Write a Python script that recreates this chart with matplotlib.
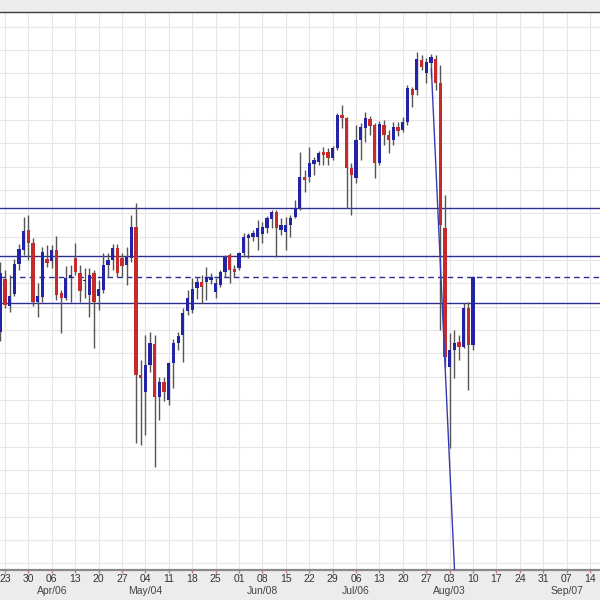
import numpy as np
import pandas as pd
import matplotlib
matplotlib.use("Agg")
import matplotlib.pyplot as plt
from matplotlib.transforms import blended_transform_factory

# daily OHLC, first bar is Fri 2015-03-20, one bar per business day
start_day = "2015-03-20"

opens = [109.91, 112.19, 111.03, 111.54, 112.83, 113.43, 114.29, 113.73, 111.20, 111.41,
         113.04, 112.96, 113.43, 111.58, 111.37, 112.23, 113.09, 112.44, 112.10, 111.50,
         112.44, 111.46, 111.71, 112.79, 113.00, 113.51, 113.09, 112.79, 113.09, 114.41,
         108.07, 107.34, 108.50, 109.40, 107.13, 107.77, 107.00, 108.59, 109.44, 109.78,
         110.81, 110.85, 111.80, 112.06, 112.06, 112.14, 111.63, 111.93, 112.49, 113.21,
         112.61, 112.66, 113.30, 113.94, 113.99, 113.99, 114.11, 114.37, 114.76, 115.06,
         114.29, 114.20, 114.50, 114.84, 115.23, 116.56, 116.56, 117.11, 117.20, 117.63,
         117.63, 117.37, 117.80, 119.21, 119.08, 116.94, 116.51, 118.14, 118.66, 119.04,
         118.78, 117.16, 118.78, 118.36, 118.14, 118.70, 118.57, 118.91, 120.33, 120.28,
         121.57, 121.01, 121.44, 121.61, 120.59, 114.37, 108.41, 109.14, 109.49, 109.27,
         110.94, 109.36]
highs = [112.91, 112.57, 112.36, 113.04, 113.69, 114.84, 114.93, 113.94, 112.01, 113.56,
         113.64, 113.64, 114.03, 111.71, 112.74, 112.79, 113.73, 112.79, 112.66, 112.66,
         112.57, 112.14, 113.30, 113.30, 113.69, 113.69, 113.30, 113.56, 114.93, 115.44,
         108.71, 109.78, 109.91, 109.78, 107.98, 107.98, 108.63, 109.61, 109.91, 110.94,
         111.71, 112.23, 112.27, 112.36, 112.70, 112.44, 112.23, 112.57, 113.21, 113.30,
         112.79, 113.34, 114.16, 114.16, 114.29, 114.71, 114.63, 114.88, 115.14, 115.14,
         114.80, 114.84, 114.93, 115.57, 117.63, 116.85, 117.84, 117.41, 117.67, 117.84,
         117.80, 117.89, 119.30, 119.64, 119.13, 117.16, 118.78, 118.87, 119.34, 119.17,
         118.87, 118.96, 119.00, 118.57, 118.91, 118.91, 119.13, 120.50, 120.41, 121.91,
         121.78, 121.65, 121.83, 121.78, 121.36, 115.78, 109.87, 110.00, 109.78, 111.16,
         111.20, 112.31]
lows = [109.53, 110.94, 110.77, 111.46, 112.57, 113.21, 113.00, 111.03, 110.55, 111.20,
        112.70, 112.66, 111.28, 109.87, 111.28, 111.20, 112.36, 111.20, 111.37, 110.55,
        109.23, 110.85, 111.58, 112.27, 112.57, 112.27, 112.27, 111.93, 112.91, 105.16,
        105.07, 105.50, 108.20, 104.13, 106.14, 106.96, 106.79, 107.51, 109.14, 108.63,
        110.64, 110.73, 111.33, 111.16, 111.28, 111.97, 111.37, 111.84, 112.27, 112.01,
        112.27, 112.57, 113.13, 113.09, 113.81, 113.43, 113.73, 114.16, 114.37, 113.13,
        114.07, 113.43, 113.99, 114.80, 115.14, 115.91, 116.34, 116.64, 117.07, 117.07,
        117.07, 117.29, 117.71, 118.66, 115.23, 114.93, 116.30, 117.29, 118.06, 118.36,
        116.51, 117.07, 117.93, 117.58, 117.93, 118.31, 118.49, 118.78, 119.56, 120.07,
        121.14, 120.59, 120.84, 120.28, 110.00, 108.41, 104.94, 107.94, 108.71, 109.23,
        107.43, 109.14]
closes = [112.44, 111.07, 111.46, 112.83, 113.47, 114.24, 113.73, 111.20, 111.46, 113.34,
          112.87, 113.43, 111.50, 111.37, 112.23, 112.36, 112.49, 111.67, 112.14, 112.36,
          111.20, 111.76, 112.79, 113.00, 113.51, 112.44, 112.74, 113.13, 114.41, 108.07,
          107.94, 108.50, 109.44, 107.13, 107.77, 107.34, 108.59, 109.44, 109.74, 110.73,
          111.37, 111.76, 112.06, 111.84, 112.27, 112.27, 112.01, 112.49, 113.13, 112.57,
          112.49, 113.30, 113.99, 114.07, 114.16, 114.37, 114.41, 114.80, 115.06, 114.37,
          114.50, 114.50, 114.80, 115.23, 116.56, 116.43, 117.16, 117.29, 117.58, 117.50,
          117.37, 117.80, 119.21, 119.08, 116.94, 116.64, 118.14, 118.70, 119.08, 118.74,
          117.16, 118.83, 118.36, 118.14, 118.70, 118.53, 118.91, 120.37, 120.07, 121.61,
          121.27, 121.49, 121.70, 120.59, 114.50, 108.84, 109.14, 109.44, 109.27, 110.94,
          109.36, 112.27]

# support / resistance levels drawn on the chart
levels = [115.21, 113.17, 111.16]
pivot_level = 112.28

# hand drawn trend line (bar index, price)
trend_x = [92.1, 97.05]
trend_y = [121.2, 99.71]

# axis labels
first_tick = "2015-03-23"
last_tick = "2015-09-14"
month_dates = ["2015-04-06", "2015-05-04", "2015-06-08", "2015-07-06", "2015-08-03", "2015-09-07"]
month_names = ["Apr/06", "May/04", "Jun/08", "Jul/06", "Aug/03", "Sep/07"]

UP = "#2323a6"
DOWN = "#c62a2a"
WICK = "#555555"
LINE = "#2e2e8e"
GRID = "#e6e6e6"
PANEL = "#ececec"

plt.rcParams["font.family"] = ["Liberation Sans", "DejaVu Sans"]

o = np.array(opens)
h = np.array(highs)
l = np.array(lows)
c = np.array(closes)
x = np.arange(len(o))
up = c >= o

fig = plt.figure(figsize=(6, 6), dpi=100, facecolor=PANEL)
ax = fig.add_axes([0, 30 / 600, 1, 558 / 600])
ax.set_facecolor("white")

ax.set_xlim(-0.07, 128.14)
ax.set_ylim(99.71, 123.63)

# grid
ax.set_yticks(np.arange(100, 124, 1))
tick_dates = pd.date_range(first_tick, last_tick, freq="7D")
tick_pos = np.busday_count(start_day, tick_dates.values.astype("datetime64[D]"))
ax.set_xticks(tick_pos)
ax.set_xticklabels([d.strftime("%d") for d in tick_dates])
ax.grid(True, color=GRID, lw=0.8, zorder=0)
ax.set_axisbelow(True)

ax.tick_params(axis="y", left=False, labelleft=False)
ax.tick_params(axis="x", length=2.0, width=1, color="#c77", pad=0.8,
               labelsize=7.5, labelcolor="#333333")

for side in ["left", "right"]:
    ax.spines[side].set_visible(False)
ax.spines["top"].set_color("#3c3c3c")
ax.spines["top"].set_linewidth(1.0)
ax.spines["bottom"].set_color("#8a8a8a")
ax.spines["bottom"].set_linewidth(1.6)

# month row under the day labels
trans = blended_transform_factory(ax.transData, ax.transAxes)
month_pos = np.busday_count(start_day, np.array(month_dates, dtype="datetime64[D]"))
for pos, name in zip(month_pos, month_names):
    ax.text(pos, -16 / 558, name, transform=trans, ha="center", va="top",
            fontsize=7.5, color="#444444", clip_on=False)

# levels
for lev in levels:
    ax.axhline(lev, color=LINE, lw=1.0, zorder=2)
ax.axhline(pivot_level, color=LINE, lw=1.0, ls=(0, (4, 3)), zorder=2)

# candles
ax.vlines(x, l, h, color=WICK, lw=1.0, zorder=3)
body_bottom = np.minimum(o, c)
body_height = np.maximum(np.abs(c - o), 0.06)
ax.bar(x, body_height, bottom=body_bottom, width=0.7,
       color=np.where(up, UP, DOWN), edgecolor="none", zorder=4)

# trend line
ax.plot(trend_x, trend_y, color="#3a3ab4", lw=1.0, zorder=5)

fig.savefig("out.png", dpi=100, facecolor=PANEL)
